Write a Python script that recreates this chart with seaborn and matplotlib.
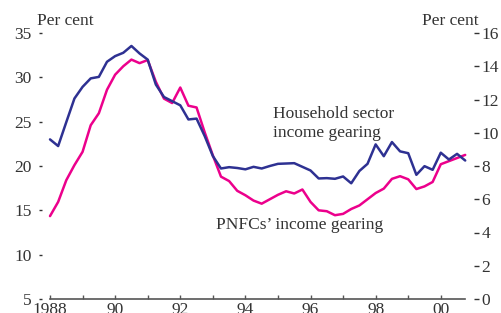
import numpy as np
import pandas as pd
import matplotlib
matplotlib.use("Agg")
import matplotlib.pyplot as plt
import seaborn as sns

# quarterly, 1988 Q1 to 2000 Q4
quarters = 1988 + np.arange(52) / 4

# household sector income gearing (right axis, per cent)
household = [9.60, 9.20, 10.64, 12.06, 12.76, 13.27, 13.36, 14.27,
             14.61, 14.81, 15.22, 14.77, 14.40, 12.90, 12.15, 11.90,
             11.65, 10.80, 10.85, 9.80, 8.60, 7.85, 7.93, 7.88,
             7.80, 7.95, 7.85, 8.00, 8.13, 8.15, 8.17, 7.95,
             7.73, 7.25, 7.27, 7.23, 7.37, 6.96, 7.70, 8.13,
             9.30, 8.59, 9.44, 8.88, 8.77, 7.47, 7.99, 7.77,
             8.80, 8.39, 8.73, 8.33]

# PNFCs' income gearing (left axis, per cent)
pnfc = [14.35, 15.95, 18.40, 20.10, 21.60, 24.60, 25.95, 28.60,
        30.30, 31.25, 32.00, 31.60, 31.95, 29.50, 27.60, 27.10,
        28.85, 26.80, 26.60, 23.80, 21.20, 18.80, 18.30, 17.20,
        16.70, 16.10, 15.75, 16.25, 16.75, 17.15, 16.90, 17.35,
        15.95, 15.00, 14.90, 14.45, 14.60, 15.15, 15.55, 16.25,
        16.95, 17.45, 18.55, 18.85, 18.50, 17.40, 17.70, 18.20,
        20.20, 20.55, 20.90, 21.25]

left_ticks = [5, 10, 15, 20, 25, 30, 35]
right_ticks = [0, 2, 4, 6, 8, 10, 12, 14, 16]
year_ticks = [1988, 1990, 1992, 1994, 1996, 1998, 2000]
year_labels = ["1988", "90", "92", "94", "96", "98", "00"]

df = pd.DataFrame({"date": quarters, "household": household, "pnfc": pnfc})

sns.set_style("white")
plt.rcParams["font.family"] = ["Liberation Serif", "DejaVu Serif"]
txt = "#333333"
blue = "#2e3192"
pink = "#ec008c"
fs = 12.5

W, H = 502, 313
fig = plt.figure(figsize=(W / 100, H / 100), dpi=100)
ax = fig.add_axes([42 / W, (H - 299) / H, (474 - 42) / W, 266 / H])
ax2 = ax.twinx()

sns.lineplot(data=df, x="date", y="pnfc", ax=ax, color=pink, lw=1.8)
sns.lineplot(data=df, x="date", y="household", ax=ax2, color=blue, lw=1.8)

ax.set_xlim(1987.754, 2001.02)
ax.set_ylim(5, 35)
ax2.set_ylim(0, 16)
for a in (ax, ax2):
    a.set_xlabel("")
    a.set_ylabel("")
    for s in ("left", "right", "top"):
        a.spines[s].set_visible(False)
    a.spines["bottom"].set_visible(False)

ax.spines["bottom"].set_visible(True)
ax.spines["bottom"].set_color("#555555")
ax.spines["bottom"].set_linewidth(1.2)
ax.spines["bottom"].set_bounds(1988, 2000.75)

ax.set_xticks(year_ticks)
ax.set_xticklabels(year_labels)
ax.set_xticks(np.arange(1989, 2001, 2), minor=True)
ax.tick_params(axis="x", which="both", direction="in", length=3, width=1,
               color="#555555", labelsize=fs, labelcolor=txt, pad=2,
               bottom=True)

ax.set_yticks(left_ticks)
ax.tick_params(axis="y", direction="out", length=2.5, width=1, color=txt,
               labelsize=fs, labelcolor=txt, pad=5, left=True)
ax2.set_yticks(right_ticks)
ax2.tick_params(axis="y", direction="out", length=3.5, width=1, color=txt,
                labelsize=fs, labelcolor=txt, pad=2, right=True)
ax.grid(False)
ax2.grid(False)

fig.text(37 / W, 1 - 25 / H, "Per cent", fontsize=fs, color=txt, va="baseline")
fig.text(479 / W, 1 - 25 / H, "Per cent", fontsize=fs, color=txt,
         va="baseline", ha="right")
fig.text(273 / W, 1 - 118 / H, "Household sector", fontsize=fs, color=txt,
         va="baseline")
fig.text(273 / W, 1 - 137 / H, "income gearing", fontsize=fs, color=txt,
         va="baseline")
fig.text(216 / W, 1 - 229 / H, "PNFCs\u2019 income gearing", fontsize=fs,
         color=txt, va="baseline")

fig.savefig("out.png", dpi=100)
